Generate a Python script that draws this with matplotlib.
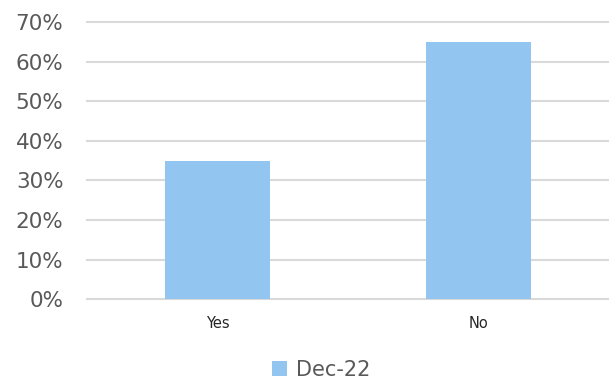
import matplotlib.pyplot as plt
from matplotlib.ticker import PercentFormatter

# datos
categorias = ['Yes', 'No']
valores = [0.35, 0.65]
serie = 'Dec-22'

color_barra = '#92C5F0'
gris = '#595959'

fig = plt.figure(figsize=(6.09, 3.81), dpi=100)
ax = fig.add_axes([0.143, 0.215, 0.857, 0.727])

ax.bar(categorias, valores, width=0.4, color=color_barra, label=serie, zorder=3)

ax.set_ylim(0, 0.7)
ax.set_xlim(-0.5, 1.5)
ax.yaxis.set_major_formatter(PercentFormatter(1.0, decimals=0))
ax.set_yticks([i / 10 for i in range(8)])
ax.grid(axis='y', color='#D9D9D9', linewidth=1.5, zorder=0)
for linea in ax.get_ygridlines():
    linea.set_clip_on(False)

for s in ax.spines.values():
    s.set_visible(False)

ax.tick_params(axis='y', length=0, pad=17, labelsize=15.5, labelcolor=gris)
ax.tick_params(axis='x', length=0, pad=12, labelsize=10.5, labelcolor='#262626')

ax.legend(loc='lower center', bbox_to_anchor=(0.448, -0.36), frameon=False,
          fontsize=15, labelcolor=gris, handlelength=0.75, handleheight=0.75,
          handletextpad=0.4)

plt.savefig('out.png', dpi=100)
